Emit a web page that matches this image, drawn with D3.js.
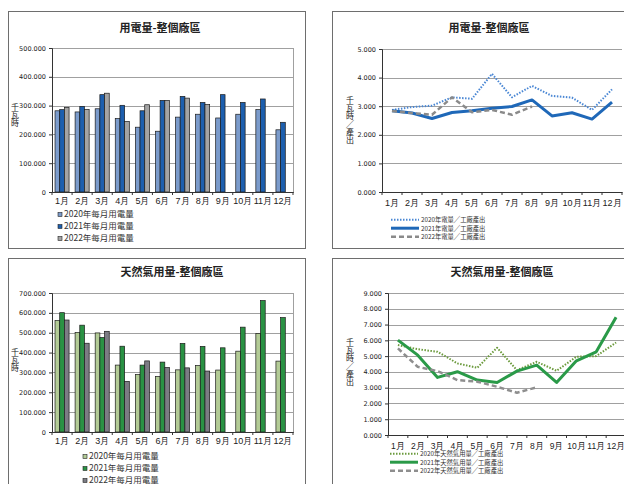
<!DOCTYPE html>
<html>
<head>
<meta charset="utf-8">
<script src="https://cdn.jsdelivr.net/npm/d3@7"></script>
<style>
  body { margin: 0; background: #fff; }
  svg { display: block; font-family: 'Noto Sans CJK TC', 'DejaVu Sans', sans-serif; }
</style>
</head>
<body>
<svg id="chart" width="624" height="484"></svg>
<script>
// data
var months = ['1月', '2月', '3月', '4月', '5月', '6月', '7月', '8月', '9月', '10月', '11月', '12月']

var elec2020 = [282000, 278000, 289000, 255000, 225000, 211000, 260000, 270000, 257000, 270000, 286000, 216000]
var elec2021 = [286000, 297000, 338000, 301000, 282000, 318000, 332000, 311000, 338000, 311000, 323000, 242000]
var elec2022 = [294000, 287000, 343000, 245000, 303000, 318000, 326000, 304000, null, null, null, null]

var elecRatio2020 = [2.87, 2.97, 3.02, 3.31, 3.26, 4.13, 3.31, 3.71, 3.36, 3.30, 2.87, 3.59]
var elecRatio2021 = [2.84, 2.76, 2.57, 2.78, 2.84, 2.93, 2.99, 3.22, 2.66, 2.77, 2.55, 3.14]
var elecRatio2022 = [2.83, 2.76, 2.70, 3.31, 2.79, 2.87, 2.70, 2.99, null, null, null, null]

var gas2020 = [561000, 501000, 499000, 337000, 290000, 280000, 313000, 335000, 312000, 407000, 496000, 357000]
var gas2021 = [601000, 538000, 476000, 432000, 337000, 352000, 446000, 431000, 424000, 528000, 662000, 576000]
var gas2022 = [564000, 447000, 507000, 255000, 358000, 325000, 323000, 307000, null, null, null, null]

var gasRatio2020 = [5.70, 5.44, 5.27, 4.54, 4.26, 5.53, 4.11, 4.64, 4.07, 4.96, 5.00, 5.86]
var gasRatio2021 = [6.01, 5.06, 3.65, 4.01, 3.48, 3.33, 4.05, 4.43, 3.33, 4.70, 5.27, 7.47]
var gasRatio2022 = [5.49, 4.32, 4.05, 3.48, 3.38, 3.06, 2.68, 3.02, null, null, null, null]

var elecBarNames = ['2020年每月用電量', '2021年每月用電量', '2022年每月用電量']
var elecLineNames = ['2020年電量╱工廠產出', '2021年電量╱工廠產出', '2022年電量╱工廠產出']
var gasBarNames = ['2020年每月用電量', '2021年每月用電量', '2022年每月用電量']
var gasLineNames = ['2020年天然氣用量╱工廠產出', '2021年天然氣用量╱工廠產出', '2022年天然氣用量╱工廠產出']

var locale = d3.formatLocale({ decimal: '.', thousands: '.', grouping: [3], currency: ['', ''] })
var fmtKwh = locale.format(',')
var fmtRatio = d3.format('.3f')

var svg = d3.select('#chart')

function panel(x, y, w, h, title, titleX, titleY) {
  svg.append('rect')
    .attr('x', x + 0.5).attr('y', y + 0.5)
    .attr('width', w).attr('height', h)
    .attr('fill', '#fff')
    .attr('stroke', '#6e6e6e')
  svg.append('text')
    .attr('x', titleX).attr('y', titleY)
    .attr('text-anchor', 'middle')
    .style('font-size', '11px')
    .style('font-weight', 'bold')
    .attr('fill', '#222')
    .text(title)
}

// y axis title, written top to bottom
function verticalLabel(label, x, y) {
  svg.append('text')
    .attr('x', x).attr('y', y)
    .style('writing-mode', 'vertical-rl')
    .style('text-orientation', 'upright')
    .style('font-size', '8px')
    .attr('fill', '#222')
    .text(label)
}

function yAxis(g, y, left, right, ticks, format) {
  g.selectAll('.grid')
    .data(ticks)
    .enter()
    .append('line')
    .attr('x1', left).attr('x2', right)
    .attr('y1', function(d) { return Math.round(y(d)) + 0.5 })
    .attr('y2', function(d) { return Math.round(y(d)) + 0.5 })
    .attr('stroke', '#a0a0a0')
    .attr('stroke-width', 1)
  var ax = g.append('g')
    .attr('transform', 'translate(' + left + ',0)')
    .call(d3.axisLeft(y).tickValues(ticks).tickSize(3).tickFormat(format))
  ax.select('.domain').attr('stroke', '#333')
  ax.selectAll('.tick line').attr('stroke', '#333')
  ax.selectAll('text').style('font-size', '6.5px').attr('fill', '#222')
    .style('font-family', 'DejaVu Sans, sans-serif')
}

function xAxis(g, x, bottom, fontSize, pad) {
  var ax = g.append('g')
    .attr('transform', 'translate(0,' + bottom + ')')
    .call(d3.axisBottom(x).tickSize(0).tickPadding(pad))
  ax.select('.domain').attr('stroke', '#333')
  ax.selectAll('text').style('font-size', fontSize).attr('fill', '#222')
  // small ticks at the category boundaries
  g.selectAll('.xtick')
    .data(d3.range(months.length + 1))
    .enter()
    .append('line')
    .attr('x1', function(i) { return x(months[0]) - x.step() * x.paddingOuter() + i * x.step() })
    .attr('x2', function(i) { return x(months[0]) - x.step() * x.paddingOuter() + i * x.step() })
    .attr('y1', bottom).attr('y2', bottom + 3)
    .attr('stroke', '#333')
}

function barChart(box, max, ticks, series, colors, names, legend) {
  var g = svg.append('g')
  var x = d3.scaleBand().domain(months).range([box.left, box.right]).paddingInner(0.3).paddingOuter(0.15)
  var y = d3.scaleLinear().domain([0, max]).range([box.bottom, box.top])
  var sub = d3.scaleBand().domain(d3.range(series.length)).range([0, x.bandwidth()])

  // plot frame (top and right)
  g.append('rect')
    .attr('x', box.left + 0.5).attr('y', box.top + 0.5)
    .attr('width', box.right - box.left).attr('height', box.bottom - box.top)
    .attr('fill', 'none').attr('stroke', '#a0a0a0')
  yAxis(g, y, box.left, box.right, ticks, fmtKwh)

  series.forEach(function(values, s) {
    g.selectAll('.bar' + s)
      .data(values.map(function(v, i) { return { m: months[i], v: v } }).filter(function(d) { return d.v != null }))
      .enter()
      .append('rect')
      .attr('x', function(d) { return x(d.m) + sub(s) })
      .attr('y', function(d) { return y(d.v) })
      .attr('width', sub.bandwidth())
      .attr('height', function(d) { return box.bottom - y(d.v) })
      .attr('fill', colors[s])
      .attr('stroke', '#1a1a1a')
      .attr('stroke-width', 0.7)
  })

  xAxis(g, x, box.bottom, '9px', 6)

  names.forEach(function(n, i) {
    var ly = legend.y[i]
    g.append('rect')
      .attr('x', legend.x).attr('y', ly - 4.5)
      .attr('width', 4).attr('height', 4)
      .attr('fill', colors[i])
      .attr('stroke', '#222').attr('stroke-width', 0.6)
    g.append('text')
      .attr('x', legend.x + 6).attr('y', ly)
      .style('font-size', '8.5px')
      .attr('fill', '#333')
      .text(n)
  })
}

function lineChart(box, max, ticks, series, styles, names, legend, fontSize) {
  var g = svg.append('g')
  var x = d3.scaleBand().domain(months).range([box.left, box.right]).paddingInner(0).paddingOuter(0)
  var y = d3.scaleLinear().domain([0, max]).range([box.bottom, box.top])

  yAxis(g, y, box.left, box.right, ticks, fmtRatio)

  var line = d3.line()
    .defined(function(d) { return d.v != null })
    .x(function(d) { return x(d.m) + x.bandwidth() / 2 })
    .y(function(d) { return y(d.v) })

  series.forEach(function(values, s) {
    g.append('path')
      .datum(values.map(function(v, i) { return { m: months[i], v: v } }))
      .attr('d', line)
      .attr('fill', 'none')
      .attr('stroke', styles[s].color)
      .attr('stroke-width', styles[s].width)
      .attr('stroke-dasharray', styles[s].dash)
      .attr('stroke-linejoin', 'round')
  })

  xAxis(g, x, box.bottom, fontSize, 8)

  names.forEach(function(n, i) {
    var ly = legend.y[i]
    g.append('line')
      .attr('x1', legend.x).attr('x2', legend.x + 28)
      .attr('y1', ly - 2.3).attr('y2', ly - 2.3)
      .attr('stroke', styles[i].color)
      .attr('stroke-width', styles[i].width)
      .attr('stroke-dasharray', styles[i].dash)
    g.append('text')
      .attr('x', legend.x + 30).attr('y', ly)
      .style('font-size', '6.3px')
      .attr('fill', '#333')
      .text(n)
  })
}

// top-left: monthly electricity
panel(8, 11, 297, 237, '用電量-整個廠區', 160, 32)
verticalLabel('千瓦時', 15, 103)
barChart({ left: 52, right: 293, top: 48, bottom: 192 }, 500000, d3.range(0, 500001, 100000),
  [elec2020, elec2021, elec2022], ['#7b9bcb', '#1d5fae', '#a4a4a4'], elecBarNames,
  { x: 58, y: [217, 229, 241] })

// top-right: electricity per output
panel(332, 11, 300, 237, '用電量-整個廠區', 489, 32)
verticalLabel('千瓦時╱產出', 350, 96)
lineChart({ left: 382, right: 622, top: 49, bottom: 192 }, 5, d3.range(0, 5.001, 1),
  [elecRatio2020, elecRatio2021, elecRatio2022],
  [{ color: '#4a87d4', width: 2, dash: '1.5,1.5' },
   { color: '#1f68b8', width: 3, dash: null },
   { color: '#8a8a8a', width: 2.5, dash: '5,3' }],
  elecLineNames, { x: 391, y: [222, 230.5, 239] }, '9px')

// bottom-left: monthly natural gas
panel(8, 258, 297, 240, '天然氣用量-整個廠區', 172, 276)
verticalLabel('千瓦時', 15, 348)
barChart({ left: 52, right: 293, top: 293, bottom: 432 }, 700000, d3.range(0, 700001, 100000),
  [gas2020, gas2021, gas2022], ['#b3cb96', '#2a9244', '#7c7c84'], gasBarNames,
  { x: 83, y: [459, 471, 483] })

// bottom-right: natural gas per output
panel(332, 258, 300, 240, '天然氣用量-整個廠區', 502, 276)
verticalLabel('千瓦時╱產出', 350, 338)
lineChart({ left: 388, right: 626, top: 293, bottom: 435 }, 9, d3.range(0, 9.001, 1),
  [gasRatio2020, gasRatio2021, gasRatio2022],
  [{ color: '#6b9a3c', width: 2, dash: '1.5,1.5' },
   { color: '#2a9a48', width: 3, dash: null },
   { color: '#8e8e8e', width: 2.5, dash: '5,3' }],
  gasLineNames, { x: 390, y: [456, 464.5, 473] }, '8.5px')
</script>
</body>
</html>
